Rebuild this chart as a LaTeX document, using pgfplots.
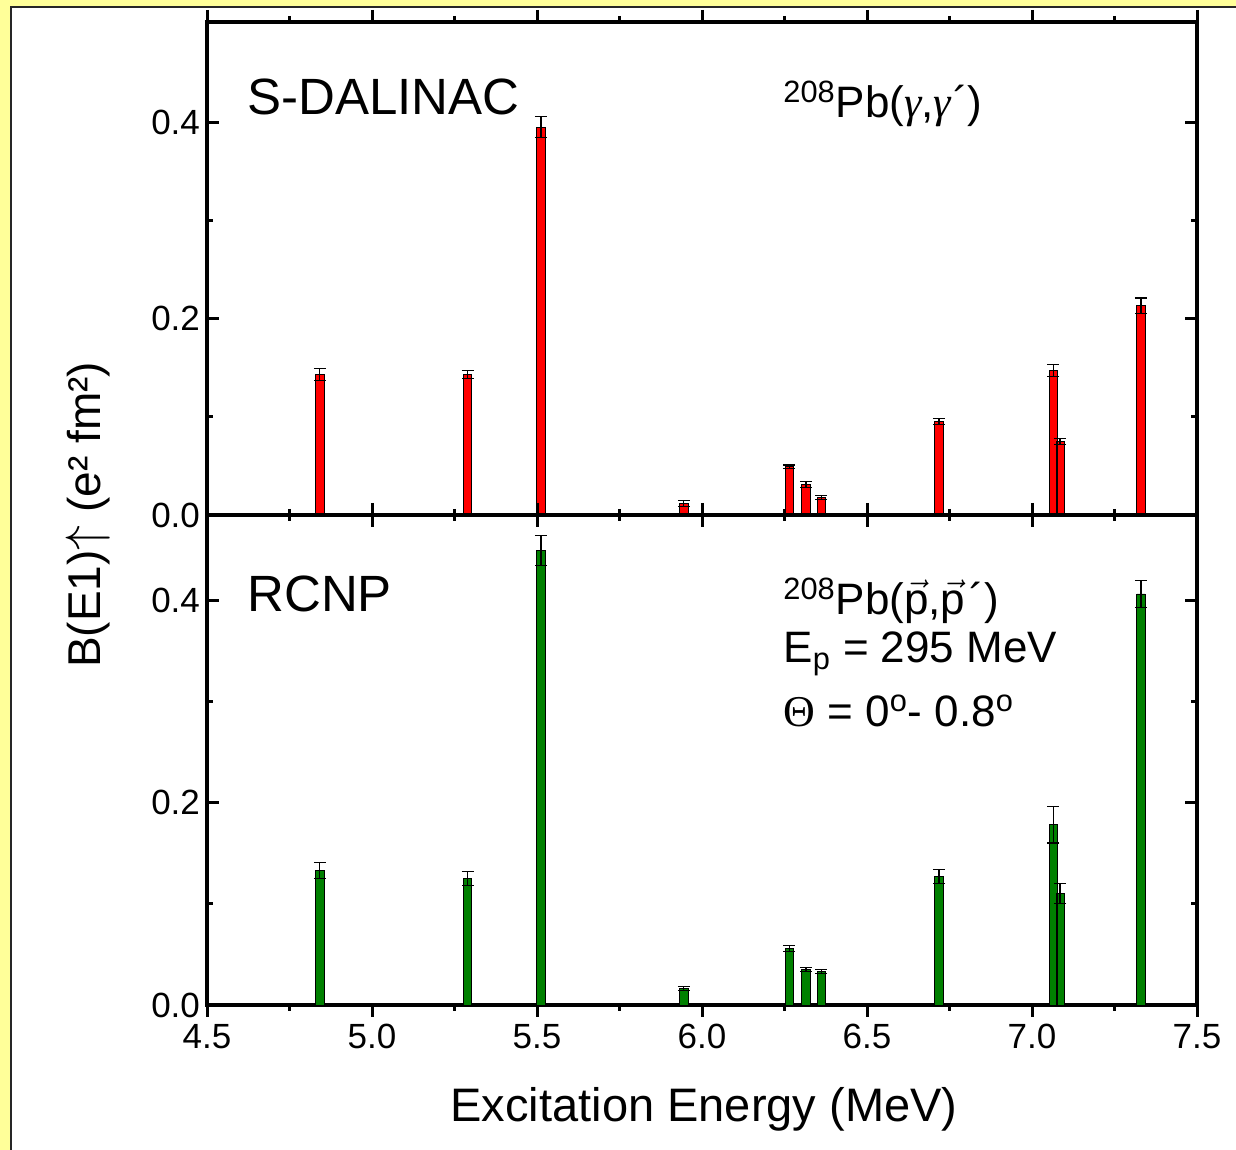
\documentclass[border=0pt]{standalone}
\usepackage{pgfplots}
\pgfplotsset{compat=1.18}
\usepackage{fontspec}
\setmainfont{Liberation Sans}
\newfontfamily\serifgr{Liberation Serif}
\definecolor{bgyellow}{RGB}{255,255,153}
\definecolor{barred}{RGB}{255,0,0}
\definecolor{bargreen}{RGB}{0,128,0}
\newcommand{\vp}{$\vec{\mbox{p}}$}
\pgfplotsset{
 myaxis/.style={
  scale only axis, width=495pt, xmin=4.5, xmax=7.5,
  xtick={4.5,5,5.5,6,6.5,7,7.5}, minor x tick num=1,
  ytick={0,0.2,0.4}, yticklabels={0.0,0.2,0.4}, minor y tick num=1,
  axis line style={line width=2pt},
  every tick/.style={black, line width=1.5pt},
  major tick length=6pt, minor tick length=3pt,
  tick align=inside,
  ticklabel style={font=\fontsize{17.5}{20}\selectfont},
  ybar, bar width=0.025, bar shift=0pt,
  clip=false,
 },
 mybars/.style={draw=black, line width=0.4pt,
  error bars/y dir=both, error bars/y explicit,
  error bars/error bar style={black, line width=0.6pt},
  error bars/error mark options={rotate=90, mark size=3pt, black, line width=0.6pt}},
}
\begin{document}
\begin{tikzpicture}
\useasboundingbox (0,0) rectangle (618pt,575pt);
\fill[bgyellow] (0,0) rectangle (618pt,575pt);
\fill[white] (5.5pt,0) rectangle (618pt,571.5pt);
\draw[black!85, line width=1pt] (5.5pt,0) -- (5.5pt,571.5pt) -- (618pt,571.5pt);

\begin{axis}[myaxis, at={(103.5pt,317.5pt)}, anchor=south west,
  height=246.5pt, ymin=0, ymax=0.502, xticklabels={}]
\addplot[fill=barred, mybars] coordinates {
 (4.842,0.143) +- (0,0.006)
 (5.290,0.143) +- (0,0.004)
 (5.512,0.395) +- (0,0.011)
 (5.945,0.012) +- (0,0.003)
 (6.264,0.049) +- (0,0.002)
 (6.315,0.031) +- (0,0.003)
 (6.361,0.018) +- (0,0.002)
 (6.718,0.095) +- (0,0.003)
 (7.064,0.147) +- (0,0.006)
 (7.085,0.075) +- (0,0.003)
 (7.330,0.213) +- (0,0.008)
};
\end{axis}

\begin{axis}[myaxis, at={(103.5pt,72.5pt)}, anchor=south west,
  height=245pt, ymin=0, ymax=0.484,
  xticklabels={4.5,5.0,5.5,6.0,6.5,7.0,7.5}]
\addplot[fill=bargreen, mybars] coordinates {
 (4.842,0.133) +- (0,0.008)
 (5.290,0.125) +- (0,0.007)
 (5.512,0.449) +- (0,0.015)
 (5.945,0.016) +- (0,0.002)
 (6.264,0.056) +- (0,0.003)
 (6.315,0.035) +- (0,0.002)
 (6.361,0.033) +- (0,0.002)
 (6.718,0.127) +- (0,0.007)
 (7.064,0.178) +- (0,0.018)
 (7.085,0.110) +- (0,0.010)
 (7.330,0.406) +- (0,0.013)
};
\end{axis}

\node[anchor=base, rotate=90, inner sep=0pt, font=\fontsize{23}{27}\selectfont] at (50pt,317.5pt) {B(E1)$\uparrow$ (e² fm²)};
\node[anchor=base, inner sep=0pt, font=\fontsize{23.5}{28}\selectfont] at (352pt,14pt) {Excitation Energy (MeV)};
\node[anchor=base west, inner sep=0pt, font=\fontsize{25.5}{30}\selectfont] at (123.5pt,517.5pt) {S-DALINAC};
\node[anchor=base west, inner sep=0pt, font=\fontsize{25.5}{30}\selectfont] at (123.5pt,269pt) {RCNP};
\node[anchor=base west, inner sep=0pt, font=\fontsize{22}{26}\selectfont] at (391.5pt,516pt) {\textsuperscript{208}Pb({\serifgr\itshape γ},{\serifgr\itshape γ}\kern1pt´)};
\node[anchor=base west, inner sep=0pt, font=\fontsize{22}{26}\selectfont] at (391.5pt,267.5pt) {\textsuperscript{208}Pb(\vp,\vp\kern2pt´)};
\node[anchor=base west, inner sep=0pt, font=\fontsize{22}{26}\selectfont] at (391.5pt,243.5pt) {E\textsubscript{p} = 295 MeV};
\node[anchor=base west, inner sep=0pt, font=\fontsize{22}{26}\selectfont] at (391.5pt,211.5pt) {{\serifgr Θ} = 0\textsuperscript{o}- 0.8\textsuperscript{o}};
\end{tikzpicture}
\end{document}
